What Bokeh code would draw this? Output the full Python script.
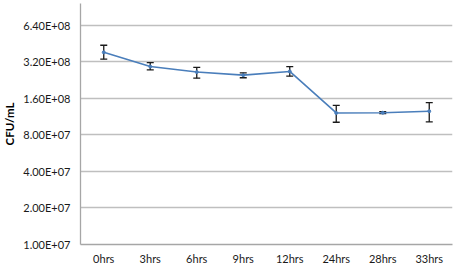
from bokeh.plotting import figure
from bokeh.models import (ColumnDataSource, FactorRange, Range1d, FixedTicker,
                          CustomJSTickFormatter, Whisker, TeeHead)
from bokeh.embed import file_html
from bokeh.resources import INLINE

categories = ["0hrs", "3hrs", "6hrs", "9hrs", "12hrs", "24hrs", "28hrs", "33hrs"]
cfu = [3.84e8, 2.93e8, 2.64e8, 2.49e8, 2.67e8, 1.215e8, 1.22e8, 1.255e8]
cfu_upper = [4.39e8, 3.16e8, 2.89e8, 2.60e8, 2.93e8, 1.405e8, 1.246e8, 1.475e8]
cfu_lower = [3.37e8, 2.75e8, 2.35e8, 2.37e8, 2.44e8, 1.018e8, 1.199e8, 1.024e8]

y_ticks = [1e7, 2e7, 4e7, 8e7, 1.6e8, 3.2e8, 6.4e8]
y_tick_labels = ["1.00E+07", "2.00E+07", "4.00E+07", "8.00E+07",
                 "1.60E+08", "3.20E+08", "6.40E+08"]

src = ColumnDataSource(dict(x=categories, y=cfu, upper=cfu_upper, lower=cfu_lower))

p = figure(width=454, height=267, x_range=FactorRange(*categories),
           y_range=Range1d(1e7, 9.7e8), y_axis_type="log",
           output_backend="svg", toolbar_location=None,
           min_border_left=77, min_border_right=2, min_border_top=3,
           min_border_bottom=22)
p.outline_line_color = None
p.background_fill_color = "white"
p.border_fill_color = "white"

p.line("x", "y", source=src, line_color="#4A7EBB", line_width=1.6)
p.scatter("x", "y", source=src, size=3, fill_color="#4A7EBB", line_color="#4A7EBB")

w = Whisker(base="x", upper="upper", lower="lower", source=src,
            line_color="#1a1a1a", line_width=1.3,
            upper_head=TeeHead(size=7, line_color="#1a1a1a", line_width=1.3),
            lower_head=TeeHead(size=7, line_color="#1a1a1a", line_width=1.3))
p.add_layout(w)

p.yaxis.ticker = FixedTicker(ticks=y_ticks, minor_ticks=[])
p.yaxis.formatter = CustomJSTickFormatter(args=dict(tvals=y_ticks, tlabels=y_tick_labels), code="""
let best = 0, bd = Infinity;
for (let i = 0; i < tvals.length; i++) {
  const d = Math.abs(Math.log(tick) - Math.log(tvals[i]));
  if (d < bd) { bd = d; best = i; }
}
return tlabels[best];
""")
p.yaxis.axis_label = "CFU/mL"
p.yaxis.axis_label_text_font = "Lato"
p.yaxis.axis_label_text_font_style = "bold"
p.yaxis.axis_label_text_font_size = "11.5px"
p.yaxis.axis_label_text_color = "#000000"
p.yaxis.axis_label_standoff = 4

for ax in (p.xaxis, p.yaxis):
    ax.major_tick_line_color = None
    ax.minor_tick_line_color = None
    ax.major_tick_out = 0
    ax.major_tick_in = 0
    ax.minor_tick_out = 0
    ax.minor_tick_in = 0
    ax.axis_line_color = "#A6A6A6"
    ax.axis_line_width = 1.3
    ax.major_label_text_font = "Lato"
    ax.major_label_text_font_size = "11px"
    ax.major_label_text_color = "#1a1a1a"

p.yaxis.major_label_standoff = 10
p.xaxis.major_label_standoff = 7

p.xgrid.grid_line_color = None
p.ygrid.grid_line_color = "#BFBFBF"
p.ygrid.grid_line_width = 1.3

open("out.html", "w").write(file_html(p, INLINE))
